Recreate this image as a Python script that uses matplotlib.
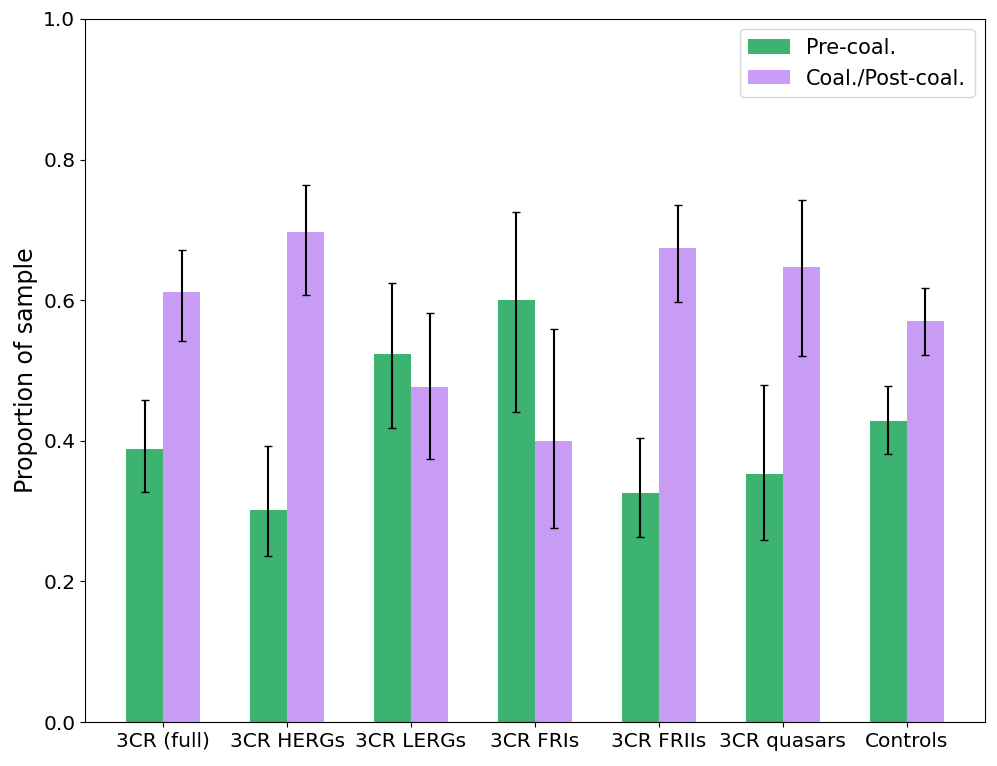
import numpy as np
import matplotlib
matplotlib.use("Agg")
import matplotlib.pyplot as plt

# Proporcion de galaxias por etapa de fusion
muestras = ["3CR (full)", "3CR HERGs", "3CR LERGs", "3CR FRIs", "3CR FRIIs", "3CR quasars", "Controls"]
pre = [0.388, 0.302, 0.523, 0.600, 0.326, 0.353, 0.428]
pre_inf = [0.327, 0.236, 0.418, 0.441, 0.263, 0.259, 0.381]
pre_sup = [0.458, 0.393, 0.625, 0.725, 0.404, 0.479, 0.478]
post = [0.611, 0.697, 0.476, 0.400, 0.674, 0.647, 0.571]
post_inf = [0.542, 0.607, 0.374, 0.276, 0.597, 0.520, 0.522]
post_sup = [0.672, 0.764, 0.582, 0.559, 0.736, 0.742, 0.618]

x = np.arange(len(muestras))
w = 0.3

pre = np.array(pre)
post = np.array(post)
err_pre = [pre - np.array(pre_inf), np.array(pre_sup) - pre]
err_post = [post - np.array(post_inf), np.array(post_sup) - post]

fig = plt.figure(figsize=(9.97, 7.66), dpi=100)
ax = fig.add_axes([85/997, 44/766, 900/997, 703/766])
ax.bar(x - w/2, pre, w, yerr=err_pre, capsize=3, color="#3cb371", label="Pre-coal.")
ax.bar(x + w/2, post, w, yerr=err_post, capsize=3, color="#c89bf5", label="Coal./Post-coal.")
ax.set_ylim(0, 1)
ax.set_xticks(x)
ax.set_xticklabels(muestras, fontsize=14.5)
ax.tick_params(axis="y", labelsize=14.5)
ax.set_ylabel("Proportion of sample", fontsize=17)
ax.legend(fontsize=15, loc="upper right")
fig.savefig("out.png")
